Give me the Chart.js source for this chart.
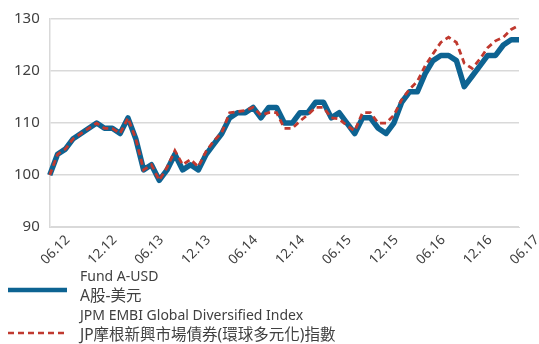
<!DOCTYPE html>
<html>
<head>
<meta charset="utf-8">
<script src="https://cdn.jsdelivr.net/npm/chart.js"></script>
<style>
  html, body { margin: 0; padding: 0; background: #fff; }
  #wrap { width: 539px; height: 344px; }
</style>
</head>
<body>
<div id="wrap"><canvas id="chart" width="539" height="344"></canvas></div>
<script>
// monthly points, 06.12 -> 06.17
const months = [
  '06.12','07.12','08.12','09.12','10.12','11.12','12.12',
  '01.13','02.13','03.13','04.13','05.13','06.13','07.13','08.13','09.13','10.13','11.13','12.13',
  '01.14','02.14','03.14','04.14','05.14','06.14','07.14','08.14','09.14','10.14','11.14','12.14',
  '01.15','02.15','03.15','04.15','05.15','06.15','07.15','08.15','09.15','10.15','11.15','12.15',
  '01.16','02.16','03.16','04.16','05.16','06.16','07.16','08.16','09.16','10.16','11.16','12.16',
  '01.17','02.17','03.17','04.17','05.17','06.17'
];
const fundLabel = ['Fund A-USD', 'A股-美元'];
const indexLabel = ['JPM EMBI Global Diversified Index', 'JP摩根新興市場債券(環球多元化)指數'];

const fundValues = [
  100, 104, 105, 107, 108, 109, 110, 109, 109, 108, 111, 107, 101, 102, 99, 101,
  104, 101, 102, 101, 104, 106, 108, 111, 112, 112, 113, 111, 113, 113, 110, 110,
  112, 112, 114, 114, 111, 112, 110, 108, 111, 111, 109, 108, 110, 114, 116, 116,
  119.5, 122, 123, 123, 122, 117, 119, 121, 123, 123, 125, 126, 126
];
const indexValues = [
  100, 104, 105, 107, 108, 109, 110, 109, 109, 108, 111, 107, 101, 102, 99, 101.5,
  104.7, 102, 103, 101.6, 104.6, 106.6, 108.2, 112, 112.2, 112.4, 113, 111.5, 112, 112, 109, 109,
  110.4, 111.6, 113, 113, 111, 110.8, 109.5, 108.5, 112, 112, 110, 110, 111.5, 114.5, 116.5, 118,
  121, 123.3, 125.5, 126.5, 125.5, 121.5, 120.5, 122.3, 124.5, 125.8, 126.5, 128, 128.8
];
const yTicks = [90, 100, 110, 120, 130];

const BLUE = '#0d6392';
const RED = '#c0392f';
const TEXT = '#404040';

// simple legend drawn under the axis, two lines per series
const legendPlugin = {
  id: 'sideLegend',
  afterDraw(chart) {
    const ctx = chart.ctx;
    ctx.save();
    ctx.fillStyle = TEXT;
    ctx.textBaseline = 'middle';
    const rows = [
      { lines: fundLabel, y: 277, lineY: 290, color: BLUE, width: 4.5, dash: [] },
      { lines: indexLabel, y: 316, lineY: 333, color: RED, width: 2.5, dash: [6, 4] }
    ];
    rows.forEach(r => {
      r.lines.forEach((t, i) => {
        ctx.font = (i === 0 ? '14px' : '15.5px') + ' "Noto Sans", "Noto Sans CJK TC", sans-serif';
        ctx.fillText(t, 80, r.y + i * 19.5);
      });
      ctx.beginPath();
      ctx.setLineDash(r.dash);
      ctx.strokeStyle = r.color;
      ctx.lineWidth = r.width;
      ctx.moveTo(8, r.lineY);
      ctx.lineTo(67, r.lineY);
      ctx.stroke();
    });
    ctx.restore();
  }
};

new Chart(document.getElementById('chart').getContext('2d'), {
  type: 'line',
  data: {
    labels: months,
    datasets: [
      {
        label: fundLabel.join(' '),
        data: fundValues,
        borderColor: BLUE,
        borderWidth: 5.5,
        borderJoinStyle: 'round',
        pointRadius: 0,
        tension: 0,
        order: 1
      },
      {
        label: indexLabel.join(' '),
        data: indexValues,
        borderColor: RED,
        borderWidth: 2.8,
        borderDash: [6, 4],
        pointRadius: 0,
        tension: 0,
        order: 0
      }
    ]
  },
  options: {
    responsive: false,
    animation: false,
    layout: { padding: { left: 4, right: 20, top: 0, bottom: 79 } },
    plugins: { legend: { display: false }, tooltip: { enabled: false } },
    scales: {
      x: {
        grid: { display: false },
        border: { color: '#d9d9d9' },
        afterCalculateLabelRotation: axis => { axis.labelRotation = 45; },
        ticks: {
          autoSkip: false,
          padding: -3,
          labelOffset: 18,
          color: TEXT,
          font: { family: '"Noto Sans", sans-serif', size: 13.5 },
          callback: (v, i) => (i % 6 === 0 ? months[i] : '')
        }
      },
      y: {
        min: yTicks[0],
        max: yTicks[yTicks.length - 1],
        afterBuildTicks: axis => { axis.ticks = yTicks.map(v => ({ value: v })); },
        grid: { color: '#d9d9d9', lineWidth: 1.5, drawTicks: false },
        border: { color: '#d9d9d9', width: 1.5 },
        ticks: {
          padding: 10,
          color: TEXT,
          font: { family: '"Noto Sans", sans-serif', size: 15 }
        }
      }
    }
  },
  plugins: [legendPlugin]
});
</script>
</body>
</html>
